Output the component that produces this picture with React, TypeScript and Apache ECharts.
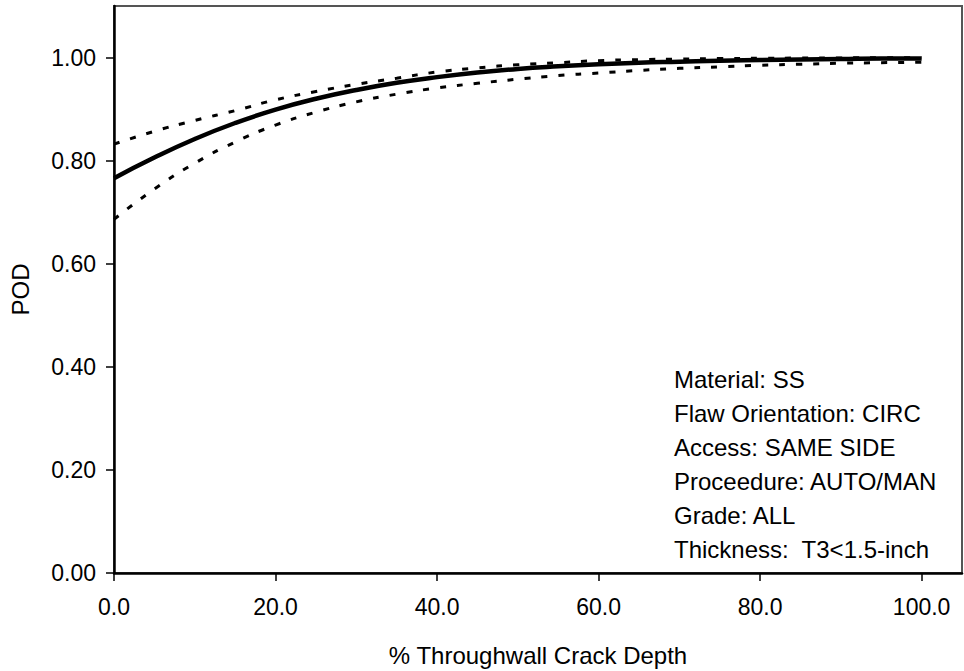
import React, { useEffect, useRef } from "react";
import * as echarts from "echarts";

// Crack depth (% throughwall) sample positions
const depth = [0, 5, 10, 15, 20, 25, 30, 35, 40, 45, 50, 55, 60, 65, 70, 75, 80, 85, 90, 95, 100];

// Probability of detection: fitted curve and its upper / lower bounds
const podFit = [0.766, 0.806, 0.842, 0.873, 0.899, 0.92, 0.937, 0.951, 0.962, 0.971, 0.978, 0.983, 0.987, 0.99, 0.992, 0.994, 0.995, 0.996, 0.997, 0.998, 0.998];
const podUpper = [0.832, 0.857, 0.878, 0.897, 0.918, 0.934, 0.948, 0.96, 0.972, 0.98, 0.986, 0.99, 0.994, 0.996, 0.997, 0.998, 0.9985, 0.999, 0.9993, 0.9995, 0.9997];
const podLower = [0.686, 0.745, 0.795, 0.836, 0.869, 0.894, 0.914, 0.929, 0.941, 0.95, 0.958, 0.965, 0.97, 0.975, 0.979, 0.982, 0.985, 0.987, 0.989, 0.99, 0.991];

const xTicks = [0, 20, 40, 60, 80, 100];
const yTicks = [0, 0.2, 0.4, 0.6, 0.8, 1.0];

const infoLines = [
  "Material: SS",
  "Flaw Orientation: CIRC",
  "Access: SAME SIDE",
  "Proceedure: AUTO/MAN",
  "Grade: ALL",
  "Thickness:  T3<1.5-inch",
];

const FONT = "'Liberation Sans', Arial, sans-serif";

const pairs = (ys: number[]) => depth.map((d, i) => [d, ys[i]]);

export default function App() {
  const ref = useRef<HTMLDivElement>(null);

  useEffect(() => {
    if (!ref.current) return;
    const chart = echarts.init(ref.current, null, { renderer: "svg" });
    const dotted = {
      type: "line",
      smooth: true,
      showSymbol: false,
      lineStyle: { color: "#000", width: 3, type: [6, 11] },
      z: 3,
    };
    chart.setOption({
      animation: false,
      backgroundColor: "#fff",
      textStyle: { fontFamily: FONT },
      grid: {
        left: 114,
        right: 2,
        top: 6,
        bottom: 98,
        outerBoundsMode: "none",
        containLabel: false,
        show: true,
        backgroundColor: "#fff",
        borderColor: "#555",
        borderWidth: 2,
      },
      xAxis: {
        type: "value",
        min: 0,
        max: 105,
        name: "% Throughwall Crack Depth",
        nameLocation: "middle",
        nameGap: 70,
        nameTextStyle: { color: "#000", fontSize: 24, fontFamily: FONT },
        axisLine: { show: true, onZero: false, lineStyle: { color: "#000", width: 2.5 } },
        axisTick: {
          show: true,
          length: 8,
          customValues: xTicks,
          lineStyle: { color: "#000", width: 1.5 },
        },
        axisLabel: {
          customValues: xTicks,
          color: "#000",
          fontSize: 23,
          fontFamily: FONT,
          margin: 22,
          formatter: (v: number) => v.toFixed(1),
        },
        splitLine: { show: false },
        z: 5,
      },
      yAxis: {
        type: "value",
        min: 0,
        max: 1.1,
        name: "POD",
        nameLocation: "middle",
        nameGap: 82,
        nameTextStyle: { color: "#000", fontSize: 24, fontFamily: FONT },
        axisLine: { show: true, onZero: false, lineStyle: { color: "#000", width: 2.5 } },
        axisTick: {
          show: true,
          length: 8,
          customValues: yTicks,
          lineStyle: { color: "#000", width: 1.5 },
        },
        axisLabel: {
          customValues: yTicks,
          color: "#000",
          fontSize: 23,
          fontFamily: FONT,
          margin: 18,
          formatter: (v: number) => v.toFixed(2),
        },
        splitLine: { show: false },
        z: 5,
      },
      graphic: [
        {
          type: "text",
          left: 674,
          top: 362,
          style: {
            text: infoLines.join("\n"),
            fill: "#000",
            font: `24px ${FONT}`,
            lineHeight: 34,
          },
        },
      ],
      series: [
        { ...dotted, name: "Upper", data: pairs(podUpper) },
        { ...dotted, name: "Lower", data: pairs(podLower) },
        {
          type: "line",
          name: "POD",
          smooth: true,
          showSymbol: false,
          lineStyle: { color: "#000", width: 4.5 },
          z: 4,
          data: pairs(podFit),
        },
      ],
    });
    return () => chart.dispose();
  }, []);

  return (
    <div
      ref={ref}
      style={{ position: "fixed", left: 0, top: 0, width: 964, height: 671 }}
    />
  );
}
